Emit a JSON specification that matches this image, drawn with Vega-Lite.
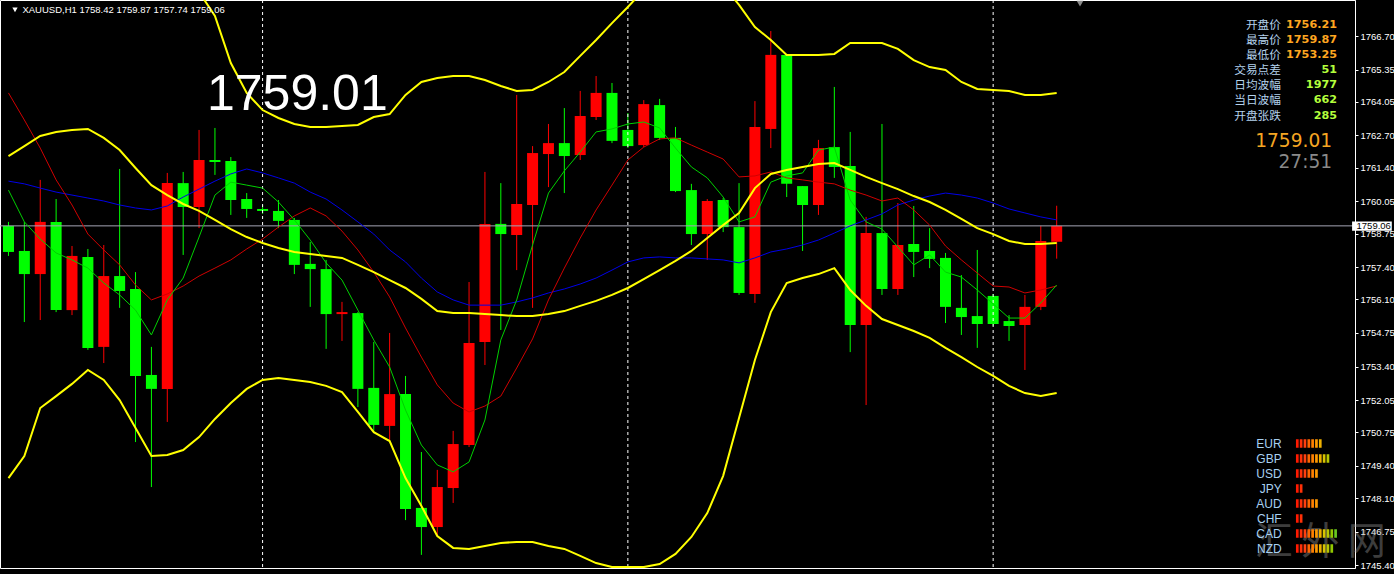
{
"$schema": "https://vega.github.io/schema/vega-lite/v6.json",
"width": 1355,
"height": 568,
"autosize": {"type": "none"},
"padding": {"left": 0, "top": 0, "right": 39, "bottom": 6},
"background": "#000000",
"config": {"view": {"stroke": "#ffffff", "strokeWidth": 1}, "font": "Liberation Sans"},
"datasets": {
"bars": [
{"i":0,"open":1759.06,"high":1759.22,"low":1757.85,"close":1758.01,"bbMid":1761.87,"bbLow":1748.91,"maSlow":1760.86,"maMid":1764.41,"maFast":1760.50},
{"i":1,"open":1758.05,"high":1759.22,"low":1755.19,"close":1757.12,"bbMid":1762.27,"bbLow":1749.80,"maSlow":1760.75,"maMid":1763.32,"maFast":1759.22},
{"i":2,"open":1757.12,"high":1760.91,"low":1755.27,"close":1759.22,"bbMid":1762.68,"bbLow":1751.73,"maSlow":1760.58,"maMid":1762.19,"maFast":1758.53},
{"i":3,"open":1759.22,"high":1760.14,"low":1755.59,"close":1755.67,"bbMid":1762.84,"bbLow":1752.21,"maSlow":1760.42,"maMid":1760.91,"maFast":1757.97},
{"i":4,"open":1755.67,"high":1758.25,"low":1755.47,"close":1757.85,"bbMid":1762.92,"bbLow":1752.70,"maSlow":1760.30,"maMid":1759.90,"maFast":1757.69},
{"i":5,"open":1757.81,"high":1758.13,"low":1754.07,"close":1754.15,"bbMid":1762.96,"bbLow":1753.26,"maSlow":1760.18,"maMid":1758.73,"maFast":1757.36},
{"i":6,"open":1754.19,"high":1758.29,"low":1753.54,"close":1757.04,"bbMid":1762.60,"bbLow":1752.86,"maSlow":1760.06,"maMid":1758.09,"maFast":1756.76},
{"i":7,"open":1757.04,"high":1761.35,"low":1755.76,"close":1756.44,"bbMid":1762.11,"bbLow":1752.05,"maSlow":1759.90,"maMid":1757.49,"maFast":1756.28},
{"i":8,"open":1756.52,"high":1757.20,"low":1750.36,"close":1753.02,"bbMid":1761.39,"bbLow":1750.93,"maSlow":1759.78,"maMid":1756.68,"maFast":1755.67},
{"i":9,"open":1753.06,"high":1754.19,"low":1748.55,"close":1752.50,"bbMid":1760.70,"bbLow":1749.80,"maSlow":1759.70,"maMid":1756.08,"maFast":1754.67},
{"i":10,"open":1752.50,"high":1761.19,"low":1751.17,"close":1760.78,"bbMid":1760.30,"bbLow":1749.84,"maSlow":1759.86,"maMid":1756.32,"maFast":1756.08},
{"i":11,"open":1760.78,"high":1761.23,"low":1757.89,"close":1759.82,"bbUp":1770.16,"bbMid":1759.94,"bbLow":1750.04,"maSlow":1760.22,"maMid":1756.64,"maFast":1756.96},
{"i":12,"open":1759.82,"high":1762.92,"low":1758.97,"close":1761.71,"bbUp":1768.47,"bbMid":1759.66,"bbLow":1750.56,"maSlow":1760.54,"maMid":1757.04,"maFast":1758.61},
{"i":13,"open":1761.71,"high":1763.00,"low":1761.11,"close":1761.63,"bbUp":1767.51,"bbMid":1759.30,"bbLow":1751.29,"maSlow":1760.86,"maMid":1757.36,"maFast":1760.30},
{"i":14,"open":1761.67,"high":1761.83,"low":1759.50,"close":1760.10,"bbUp":1765.61,"bbMid":1758.93,"bbLow":1751.93,"maSlow":1761.15,"maMid":1757.69,"maFast":1760.82},
{"i":15,"open":1760.14,"high":1760.38,"low":1759.38,"close":1759.74,"bbUp":1764.41,"bbMid":1758.61,"bbLow":1752.50,"maSlow":1761.35,"maMid":1758.13,"maFast":1760.70},
{"i":16,"open":1759.74,"high":1759.90,"low":1759.54,"close":1759.66,"bbUp":1763.72,"bbMid":1758.37,"bbLow":1752.86,"maSlow":1761.19,"maMid":1758.53,"maFast":1760.58},
{"i":17,"open":1759.66,"high":1760.10,"low":1758.97,"close":1759.26,"bbUp":1763.40,"bbMid":1758.17,"bbLow":1752.94,"maSlow":1760.99,"maMid":1759.01,"maFast":1760.02},
{"i":18,"open":1759.30,"high":1759.38,"low":1757.12,"close":1757.49,"bbUp":1763.16,"bbMid":1758.01,"bbLow":1752.86,"maSlow":1760.78,"maMid":1759.46,"maFast":1759.30},
{"i":19,"open":1757.53,"high":1758.41,"low":1755.80,"close":1757.32,"bbUp":1763.04,"bbMid":1757.93,"bbLow":1752.78,"maSlow":1760.42,"maMid":1759.78,"maFast":1758.49},
{"i":20,"open":1757.32,"high":1757.69,"low":1754.11,"close":1755.51,"bbUp":1763.04,"bbMid":1757.85,"bbLow":1752.62,"maSlow":1760.14,"maMid":1759.46,"maFast":1757.57},
{"i":21,"open":1755.51,"high":1756.00,"low":1754.43,"close":1755.59,"bbUp":1763.08,"bbMid":1757.77,"bbLow":1752.37,"maSlow":1759.70,"maMid":1758.85,"maFast":1756.88},
{"i":22,"open":1755.55,"high":1755.59,"low":1751.77,"close":1752.50,"bbUp":1763.12,"bbMid":1757.49,"bbLow":1751.57,"maSlow":1759.22,"maMid":1758.09,"maFast":1755.67},
{"i":23,"open":1752.54,"high":1754.39,"low":1750.72,"close":1751.05,"bbUp":1763.44,"bbMid":1757.20,"bbLow":1750.76,"maSlow":1758.73,"maMid":1757.20,"maFast":1754.47},
{"i":24,"open":1751.01,"high":1754.75,"low":1750.44,"close":1752.29,"bbUp":1763.56,"bbMid":1756.88,"bbLow":1750.40,"maSlow":1758.09,"maMid":1756.20,"maFast":1753.38},
{"i":25,"open":1752.29,"high":1753.02,"low":1747.22,"close":1747.67,"bbUp":1764.33,"bbMid":1756.56,"bbLow":1748.91,"maSlow":1757.61,"maMid":1754.95,"maFast":1751.65},
{"i":26,"open":1747.71,"high":1749.96,"low":1745.82,"close":1746.94,"bbUp":1764.85,"bbMid":1756.12,"bbLow":1747.79,"maSlow":1756.96,"maMid":1753.78,"maFast":1750.24},
{"i":27,"open":1746.94,"high":1749.24,"low":1746.62,"close":1748.55,"bbUp":1765.01,"bbMid":1755.63,"bbLow":1746.58,"maSlow":1756.40,"maMid":1752.66,"maFast":1749.44},
{"i":28,"open":1748.51,"high":1750.81,"low":1747.91,"close":1750.28,"bbUp":1765.09,"bbMid":1755.55,"bbLow":1746.10,"maSlow":1756.08,"maMid":1751.93,"maFast":1749.16},
{"i":29,"open":1750.24,"high":1756.80,"low":1750.16,"close":1754.35,"bbUp":1765.09,"bbMid":1755.55,"bbLow":1746.06,"maSlow":1755.87,"maMid":1751.57,"maFast":1749.56},
{"i":30,"open":1754.39,"high":1761.23,"low":1753.46,"close":1759.14,"bbUp":1764.93,"bbMid":1755.51,"bbLow":1746.18,"maSlow":1755.87,"maMid":1751.81,"maFast":1751.25},
{"i":31,"open":1759.14,"high":1760.78,"low":1754.87,"close":1758.73,"bbUp":1764.69,"bbMid":1755.47,"bbLow":1746.30,"maSlow":1755.87,"maMid":1752.21,"maFast":1754.47},
{"i":32,"open":1758.69,"high":1764.33,"low":1757.28,"close":1759.94,"bbUp":1764.49,"bbMid":1755.43,"bbLow":1746.34,"maSlow":1756.00,"maMid":1753.34,"maFast":1756.08},
{"i":33,"open":1759.90,"high":1762.27,"low":1755.76,"close":1761.99,"bbUp":1764.53,"bbMid":1755.43,"bbLow":1746.34,"maSlow":1756.16,"maMid":1754.51,"maFast":1758.29},
{"i":34,"open":1761.95,"high":1763.16,"low":1760.62,"close":1762.39,"bbUp":1764.85,"bbMid":1755.51,"bbLow":1746.18,"maSlow":1756.36,"maMid":1756.08,"maFast":1760.38},
{"i":35,"open":1762.39,"high":1763.80,"low":1760.38,"close":1761.87,"bbUp":1765.25,"bbMid":1755.63,"bbLow":1746.06,"maSlow":1756.52,"maMid":1757.36,"maFast":1761.27},
{"i":36,"open":1761.91,"high":1764.49,"low":1761.71,"close":1763.48,"bbUp":1765.90,"bbMid":1755.84,"bbLow":1745.78,"maSlow":1756.72,"maMid":1758.57,"maFast":1762.03},
{"i":37,"open":1763.44,"high":1765.09,"low":1763.32,"close":1764.41,"bbUp":1766.54,"bbMid":1756.04,"bbLow":1745.49,"maSlow":1756.96,"maMid":1759.70,"maFast":1762.84},
{"i":38,"open":1764.41,"high":1764.81,"low":1762.39,"close":1762.48,"bbUp":1767.22,"bbMid":1756.28,"bbLow":1745.33,"maSlow":1757.28,"maMid":1760.70,"maFast":1762.96},
{"i":39,"open":1762.92,"high":1763.60,"low":1762.19,"close":1762.27,"bbUp":1767.87,"bbMid":1756.56,"bbLow":1745.33,"maSlow":1757.61,"maMid":1761.71,"maFast":1763.16},
{"i":40,"open":1762.31,"high":1764.12,"low":1762.23,"close":1763.96,"bbUp":1768.55,"bbMid":1756.92,"bbLow":1745.33,"maSlow":1757.77,"maMid":1762.23,"maFast":1763.24},
{"i":41,"open":1763.92,"high":1764.17,"low":1762.52,"close":1762.60,"bbUp":1769.36,"bbMid":1757.28,"bbLow":1745.45,"maSlow":1757.81,"maMid":1762.56,"maFast":1763.00},
{"i":42,"open":1762.60,"high":1763.04,"low":1760.42,"close":1760.46,"bbUp":1769.76,"bbMid":1757.65,"bbLow":1745.86,"maSlow":1757.77,"maMid":1762.60,"maFast":1762.19},
{"i":43,"open":1760.50,"high":1760.75,"low":1758.29,"close":1758.73,"bbUp":1769.96,"bbMid":1758.05,"bbLow":1746.54,"maSlow":1757.77,"maMid":1762.31,"maFast":1761.43},
{"i":44,"open":1758.73,"high":1760.14,"low":1757.69,"close":1760.06,"bbUp":1769.56,"bbMid":1758.57,"bbLow":1747.50,"maSlow":1757.73,"maMid":1762.03,"maFast":1760.99},
{"i":45,"open":1760.10,"high":1760.18,"low":1758.81,"close":1759.01,"bbUp":1768.75,"bbMid":1759.09,"bbLow":1749.00,"maSlow":1757.69,"maMid":1761.75,"maFast":1760.22},
{"i":46,"open":1759.01,"high":1760.78,"low":1756.28,"close":1756.36,"bbUp":1767.95,"bbMid":1759.58,"bbLow":1751.33,"maSlow":1757.57,"maMid":1761.03,"maFast":1759.22},
{"i":47,"open":1756.32,"high":1764.08,"low":1755.96,"close":1763.04,"bbUp":1767.06,"bbMid":1760.58,"bbLow":1753.66,"maSlow":1757.77,"maMid":1761.07,"maFast":1759.42},
{"i":48,"open":1762.96,"high":1766.90,"low":1762.19,"close":1765.94,"bbUp":1766.54,"bbMid":1761.15,"bbLow":1755.59,"maSlow":1758.01,"maMid":1761.23,"maFast":1760.82},
{"i":49,"open":1765.94,"high":1765.94,"low":1760.22,"close":1760.75,"bbUp":1765.94,"bbMid":1761.31,"bbLow":1756.76,"maSlow":1758.13,"maMid":1760.99,"maFast":1761.07},
{"i":50,"open":1760.66,"high":1760.66,"low":1758.05,"close":1759.90,"bbUp":1765.94,"bbMid":1761.43,"bbLow":1756.96,"maSlow":1758.29,"maMid":1760.91,"maFast":1761.19},
{"i":51,"open":1759.90,"high":1762.52,"low":1759.50,"close":1762.19,"bbUp":1765.94,"bbMid":1761.55,"bbLow":1757.12,"maSlow":1758.49,"maMid":1760.82,"maFast":1762.11},
{"i":52,"open":1762.23,"high":1764.65,"low":1760.99,"close":1761.43,"bbUp":1765.98,"bbMid":1761.59,"bbLow":1757.36,"maSlow":1758.77,"maMid":1760.75,"maFast":1762.23},
{"i":53,"open":1761.47,"high":1762.84,"low":1753.98,"close":1755.07,"bbUp":1766.42,"bbMid":1761.31,"bbLow":1756.48,"maSlow":1759.06,"maMid":1760.50,"maFast":1760.10},
{"i":54,"open":1755.07,"high":1759.42,"low":1751.85,"close":1758.77,"bbUp":1766.42,"bbMid":1761.03,"bbLow":1755.84,"maSlow":1759.30,"maMid":1760.30,"maFast":1759.22},
{"i":55,"open":1758.77,"high":1763.16,"low":1756.28,"close":1756.52,"bbUp":1766.42,"bbMid":1760.78,"bbLow":1755.31,"maSlow":1759.54,"maMid":1760.06,"maFast":1758.93},
{"i":56,"open":1756.52,"high":1759.98,"low":1756.28,"close":1758.29,"bbUp":1766.18,"bbMid":1760.54,"bbLow":1755.07,"maSlow":1759.90,"maMid":1760.18,"maFast":1758.21},
{"i":57,"open":1758.33,"high":1759.86,"low":1757.00,"close":1758.01,"bbUp":1765.73,"bbMid":1760.26,"bbLow":1754.83,"maSlow":1760.10,"maMid":1759.70,"maFast":1757.49},
{"i":58,"open":1758.05,"high":1758.97,"low":1757.36,"close":1757.73,"bbUp":1765.45,"bbMid":1760.02,"bbLow":1754.55,"maSlow":1760.26,"maMid":1759.09,"maFast":1757.89},
{"i":59,"open":1757.77,"high":1757.97,"low":1755.15,"close":1755.80,"bbUp":1765.33,"bbMid":1759.70,"bbLow":1754.15,"maSlow":1760.38,"maMid":1758.25,"maFast":1757.20},
{"i":60,"open":1755.76,"high":1757.08,"low":1754.67,"close":1755.39,"bbUp":1764.85,"bbMid":1759.34,"bbLow":1753.78,"maSlow":1760.30,"maMid":1757.69,"maFast":1757.00},
{"i":61,"open":1755.43,"high":1758.09,"low":1754.15,"close":1755.11,"bbUp":1764.57,"bbMid":1758.97,"bbLow":1753.38,"maSlow":1760.18,"maMid":1757.16,"maFast":1756.48},
{"i":62,"open":1756.24,"high":1756.32,"low":1755.03,"close":1755.11,"bbUp":1764.53,"bbMid":1758.73,"bbLow":1753.02,"maSlow":1759.98,"maMid":1756.64,"maFast":1755.92},
{"i":63,"open":1755.23,"high":1755.47,"low":1754.43,"close":1755.03,"bbUp":1764.49,"bbMid":1758.45,"bbLow":1752.62,"maSlow":1759.74,"maMid":1756.60,"maFast":1755.35},
{"i":64,"open":1755.07,"high":1756.28,"low":1753.26,"close":1755.80,"bbUp":1764.33,"bbMid":1758.33,"bbLow":1752.33,"maSlow":1759.58,"maMid":1756.36,"maFast":1755.35},
{"i":65,"open":1755.80,"high":1759.06,"low":1755.67,"close":1758.45,"bbUp":1764.33,"bbMid":1758.33,"bbLow":1752.21,"maSlow":1759.42,"maMid":1756.48,"maFast":1755.96},
{"i":66,"open":1758.42,"high":1759.87,"low":1757.74,"close":1759.06,"bbUp":1764.41,"bbMid":1758.37,"bbLow":1752.33,"maSlow":1759.30,"maMid":1756.64,"maFast":1756.68}
],
"seps": [{"i":16},{"i":39},{"i":62}],
"one": [{}],
"info": [
{"item":"开盘价","value":"1756.21","kind":"price"},
{"item":"最高价","value":"1759.87","kind":"price"},
{"item":"最低价","value":"1753.25","kind":"price"},
{"item":"交易点差","value":"51","kind":"stat"},
{"item":"日均波幅","value":"1977","kind":"stat"},
{"item":"当日波幅","value":"662","kind":"stat"},
{"item":"开盘张跌","value":"285","kind":"stat"}
],
"fx": [
{"c":"EUR","k":1},{"c":"EUR","k":2},{"c":"EUR","k":3},{"c":"EUR","k":4},{"c":"EUR","k":5},{"c":"EUR","k":6},{"c":"EUR","k":7},
{"c":"GBP","k":1},{"c":"GBP","k":2},{"c":"GBP","k":3},{"c":"GBP","k":4},{"c":"GBP","k":5},{"c":"GBP","k":6},{"c":"GBP","k":7},{"c":"GBP","k":8},{"c":"GBP","k":9},
{"c":"USD","k":1},{"c":"USD","k":2},{"c":"USD","k":3},{"c":"USD","k":4},{"c":"USD","k":5},{"c":"USD","k":6},
{"c":"JPY","k":1},{"c":"JPY","k":2},
{"c":"AUD","k":1},{"c":"AUD","k":2},{"c":"AUD","k":3},{"c":"AUD","k":4},{"c":"AUD","k":5},{"c":"AUD","k":6},
{"c":"CHF","k":1},{"c":"CHF","k":2},
{"c":"CAD","k":1},{"c":"CAD","k":2},{"c":"CAD","k":3},{"c":"CAD","k":4},{"c":"CAD","k":5},{"c":"CAD","k":6},{"c":"CAD","k":7},{"c":"CAD","k":8},{"c":"CAD","k":9},{"c":"CAD","k":10},{"c":"CAD","k":11},
{"c":"NZD","k":1},{"c":"NZD","k":2},{"c":"NZD","k":3},{"c":"NZD","k":4},{"c":"NZD","k":5},{"c":"NZD","k":6},{"c":"NZD","k":7},{"c":"NZD","k":8},{"c":"NZD","k":9},{"c":"NZD","k":10}
]
},
"resolve": {"scale": {"x": "independent", "y": "independent", "color": "independent"}},
"layer": [
{
"data": {"name": "bars"},
"resolve": {"axis": {"y": "independent", "x": "independent"}},
"layer": [
{"mark": {"type": "rule", "strokeWidth": 1},
 "encoding": {
  "x": {"field": "i", "type": "quantitative", "scale": {"domain": [-0.21875, 84.46875], "nice": false, "zero": false}, "axis": null},
  "y": {"field": "low", "type": "quantitative", "scale": {"domain": [1745.292, 1768.149], "nice": false, "zero": false},
   "axis": {"orient": "right", "title": null, "grid": false, "values": [1745.40,1746.75,1748.10,1749.40,1750.75,1752.05,1753.40,1754.75,1756.10,1757.40,1758.75,1760.05,1761.40,1762.70,1764.05,1765.35,1766.70], "format": ".2f", "labelColor": "#ffffff", "labelFont": "Liberation Sans", "labelFontSize": 9.5, "labelPadding": 2, "labelOverlap": false, "labelFlush": false, "tickColor": "#ffffff", "tickSize": 3, "domainColor": "#ffffff"}},
  "y2": {"field": "high"},
  "color": {"condition": {"test": "datum.close >= datum.open", "value": "#ff0000"}, "value": "#00ff00"}}},
{"mark": {"type": "bar", "size": 11, "orient": "vertical"},
 "encoding": {
  "x": {"field": "i", "type": "quantitative", "axis": null},
  "y": {"field": "open", "type": "quantitative", "axis": null},
  "y2": {"field": "close"},
  "color": {"condition": {"test": "datum.close >= datum.open", "value": "#ff0000"}, "value": "#00ff00"}}},
{"data": {"name": "seps"}, "mark": {"type": "rule", "color": "#ffffff", "strokeWidth": 1, "strokeDash": [3, 3]},
 "encoding": {"x": {"field": "i", "type": "quantitative", "axis": null}}},
{"data": {"name": "one"}, "mark": {"type": "rule", "color": "#a4a4b4", "strokeWidth": 1},
 "encoding": {"y": {"datum": 1759.06, "type": "quantitative", "axis": null}}},
{"mark": {"type": "line", "color": "#0000e8", "strokeWidth": 1, "clip": true},
 "encoding": {"x": {"field": "i", "type": "quantitative", "axis": null}, "y": {"field": "maSlow", "type": "quantitative", "axis": null}}},
{"mark": {"type": "line", "color": "#d00000", "strokeWidth": 1, "clip": true},
 "encoding": {"x": {"field": "i", "type": "quantitative", "axis": null}, "y": {"field": "maMid", "type": "quantitative", "axis": null}}},
{"mark": {"type": "line", "color": "#00d000", "strokeWidth": 1, "clip": true},
 "encoding": {"x": {"field": "i", "type": "quantitative", "axis": null}, "y": {"field": "maFast", "type": "quantitative", "axis": null}}},
{"mark": {"type": "line", "color": "#ffff00", "strokeWidth": 2, "clip": true},
 "encoding": {"x": {"field": "i", "type": "quantitative", "axis": null}, "y": {"field": "bbUp", "type": "quantitative", "axis": null}}},
{"mark": {"type": "line", "color": "#ffff00", "strokeWidth": 2, "clip": true},
 "encoding": {"x": {"field": "i", "type": "quantitative", "axis": null}, "y": {"field": "bbMid", "type": "quantitative", "axis": null}}},
{"mark": {"type": "line", "color": "#ffff00", "strokeWidth": 2, "clip": true},
 "encoding": {"x": {"field": "i", "type": "quantitative", "axis": null}, "y": {"field": "bbLow", "type": "quantitative", "axis": null}}},
{"data": {"name": "one"}, "mark": {"type": "rect", "color": "#ffffff"},
 "encoding": {"x": {"datum": 84.6, "type": "quantitative", "axis": null}, "x2": {"datum": 87.1}, "y": {"datum": 1759.24, "type": "quantitative", "axis": null}, "y2": {"datum": 1758.86}}},
{"data": {"name": "one"}, "mark": {"type": "text", "color": "#000000", "align": "left", "baseline": "middle", "font": "Liberation Sans", "fontSize": 9.5},
 "encoding": {"x": {"datum": 84.88, "type": "quantitative", "axis": null}, "y": {"datum": 1759.05, "type": "quantitative", "axis": null}, "text": {"value": "1759.06"}}},
{"data": {"name": "one"}, "mark": {"type": "point", "shape": "triangle-down", "filled": true, "color": "#ffffff", "size": 28, "opacity": 1},
 "encoding": {"x": {"datum": 0.41, "type": "quantitative", "axis": null}, "y": {"datum": 1767.75, "type": "quantitative", "axis": null}}},
{"data": {"name": "one"}, "mark": {"type": "text", "color": "#ffffff", "align": "left", "baseline": "alphabetic", "font": "Liberation Sans", "fontSize": 9.5},
 "encoding": {"x": {"datum": 0.88, "type": "quantitative", "axis": null}, "y": {"datum": 1767.63, "type": "quantitative", "axis": null}, "text": {"value": "XAUUSD,H1  1758.42 1759.87 1757.74 1759.06"}}},
{"data": {"name": "one"}, "mark": {"type": "point", "shape": "triangle-down", "filled": true, "color": "#8c8c8c", "size": 45, "opacity": 1},
 "encoding": {"x": {"datum": 67.47, "type": "quantitative", "axis": null}, "y": {"datum": 1768.0, "type": "quantitative", "axis": null}}},
{"data": {"name": "one"}, "mark": {"type": "text", "color": "#ffffff", "align": "left", "baseline": "alphabetic", "font": "Liberation Sans", "fontSize": 50},
 "encoding": {"x": {"datum": 12.5, "type": "quantitative", "axis": null}, "y": {"datum": 1763.72, "type": "quantitative", "axis": null}, "text": {"value": "1759.01"}}},
{"data": {"name": "one"}, "mark": {"type": "text", "color": "#f5a623", "align": "right", "baseline": "middle", "font": "DejaVu Sans", "fontSize": 18.6},
 "encoding": {"x": {"datum": 83.34, "type": "quantitative", "axis": null}, "y": {"datum": 1762.46, "type": "quantitative", "axis": null}, "text": {"value": "1759.01"}}},
{"data": {"name": "one"}, "mark": {"type": "text", "color": "#8a8a8a", "align": "right", "baseline": "middle", "font": "DejaVu Sans", "fontSize": 18.6},
 "encoding": {"x": {"datum": 83.34, "type": "quantitative", "axis": null}, "y": {"datum": 1761.63, "type": "quantitative", "axis": null}, "text": {"value": "27:51"}}},
{"data": {"name": "one"}, "mark": {"type": "text", "color": "#9a9a9a", "opacity": 0.4, "align": "center", "baseline": "middle", "font": "Noto Sans CJK SC", "fontSize": 38},
 "encoding": {"x": {"datum": 82.59, "type": "quantitative", "axis": null}, "y": {"datum": 1746.3, "type": "quantitative", "axis": null}, "text": {"value": "汇 外 网"}}}
]
},
{
"data": {"name": "info"},
"layer": [
{"mark": {"type": "text", "align": "right", "baseline": "middle", "font": "Noto Sans CJK SC", "fontSize": 11.7, "color": "#b4d2ec"},
 "encoding": {
  "x": {"datum": "label", "type": "nominal", "scale": {"type": "point", "domain": ["label", "value"], "range": [1281, 1337], "padding": 0}, "axis": null},
  "y": {"field": "item", "type": "nominal", "scale": {"type": "point", "domain": ["开盘价","最高价","最低价","交易点差","日均波幅","当日波幅","开盘张跌"], "range": [25, 115.5], "padding": 0}, "axis": null},
  "text": {"field": "item"}}},
{"mark": {"type": "text", "align": "right", "baseline": "middle", "font": "DejaVu Sans", "fontWeight": "bold", "fontSize": 11.2},
 "encoding": {
  "x": {"datum": "value", "type": "nominal", "axis": null},
  "y": {"field": "item", "type": "nominal", "axis": null},
  "text": {"field": "value"},
  "color": {"field": "kind", "type": "nominal", "scale": {"domain": ["price", "stat"], "range": ["#ffa620", "#b4ff3c"]}, "legend": null}}}
]
},
{
"data": {"name": "fx"},
"layer": [
{"mark": {"type": "tick", "thickness": 2.7, "size": 8.5, "orient": "vertical", "opacity": 1},
 "encoding": {
  "x": {"field": "k", "type": "quantitative", "scale": {"domain": [1, 11], "range": [1297.3, 1335.6], "nice": false, "zero": false}, "axis": null},
  "y": {"field": "c", "type": "nominal", "scale": {"type": "point", "domain": ["EUR","GBP","USD","JPY","AUD","CHF","CAD","NZD"], "range": [443.5, 548.5], "padding": 0}, "axis": null},
  "color": {"field": "k", "type": "quantitative", "scale": {"domain": [1, 3, 6, 8, 11], "range": ["#ff1a00", "#ff4010", "#ff9a00", "#d8c400", "#68c820"]}, "legend": null}}},
{"transform": [{"filter": "datum.k == 1"}],
 "mark": {"type": "text", "align": "right", "baseline": "middle", "font": "Liberation Sans", "fontSize": 12, "color": "#a8d0f0"},
 "encoding": {
  "x": {"datum": -3.07, "type": "quantitative", "axis": null},
  "y": {"field": "c", "type": "nominal", "axis": null},
  "text": {"field": "c"}}}
]
}
]
}
